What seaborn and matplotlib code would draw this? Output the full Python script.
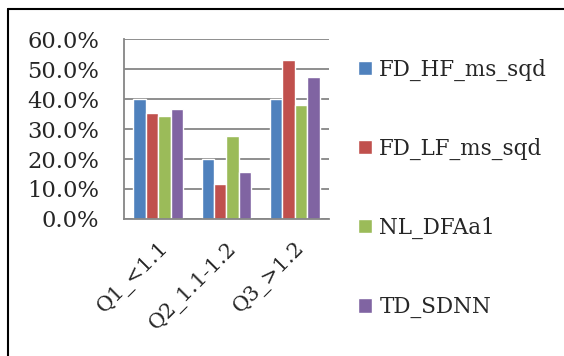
import pandas as pd
import seaborn as sns
import matplotlib.pyplot as plt
from matplotlib.lines import Line2D
from matplotlib.ticker import PercentFormatter

# values (percent)
categories = ["Q1_<1.1", "Q2_1.1-1.2", "Q3_>1.2"]
series = ["FD_HF_ms_sqd", "FD_LF_ms_sqd", "NL_DFAa1", "TD_SDNN"]
fd_hf = [40.0, 20.0, 40.0]
fd_lf = [35.2, 11.8, 52.9]
nl_dfa = [34.4, 27.6, 37.9]
td_sdnn = [36.8, 15.8, 47.3]
colors = ["#4F81BD", "#C0504D", "#9BBB59", "#8064A2"]

rows = []
for name, vals in zip(series, [fd_hf, fd_lf, nl_dfa, td_sdnn]):
    for cat, v in zip(categories, vals):
        rows.append({"cat": cat, "series": name, "value": v})
df = pd.DataFrame(rows)

sns.set_style("white")
plt.rcParams["font.family"] = ["DejaVu Serif"]
grey = "#868686"

fig = plt.figure(figsize=(5.64, 3.56), dpi=100)
ax = fig.add_axes([0.22, 0.385, 0.363, 0.505])

sns.barplot(data=df, x="cat", y="value", hue="series", palette=colors,
            width=0.73, saturation=1, ax=ax, legend=True)

ax.set_ylim(0, 60)
ax.set_yticks(range(0, 61, 10))
ax.yaxis.set_major_formatter(PercentFormatter(decimals=1))
ax.set_xlim(-0.5, 2.5)
ax.grid(axis="y", color=grey, linewidth=1.3)
ax.set_axisbelow(True)
for s in ["top", "right"]:
    ax.spines[s].set_visible(False)
for s in ["left", "bottom"]:
    ax.spines[s].set_color(grey)
    ax.spines[s].set_linewidth(1.3)
ax.set_xlabel("")
ax.set_ylabel("")

# category boundary ticks below the axis
ax.set_xticks([-0.5, 0.5, 1.5, 2.5], minor=True)
ax.tick_params(axis="x", which="minor", length=6, color=grey, width=1.3, direction="out")
ax.tick_params(axis="x", which="major", length=0, pad=14)
ax.tick_params(axis="y", length=7, color=grey, width=1.3, direction="out", labelsize=16.3, pad=11)
plt.setp(ax.get_xticklabels(), rotation=45, ha="right", rotation_mode="anchor", fontsize=15)

leg = ax.legend(loc="upper left", bbox_to_anchor=(0.619, 0.86), bbox_transform=fig.transFigure,
                frameon=False, fontsize=15.5, handlelength=0.65, handleheight=0.65,
                handletextpad=0.35, labelspacing=2.65, borderaxespad=0)

# outer frame (left and top visible)
fig.add_artist(Line2D([0.015, 0.015], [0, 0.975], color="black", linewidth=1.5))
fig.add_artist(Line2D([0.015, 1], [0.975, 0.975], color="black", linewidth=1.5))

fig.savefig("out.png", dpi=100)
